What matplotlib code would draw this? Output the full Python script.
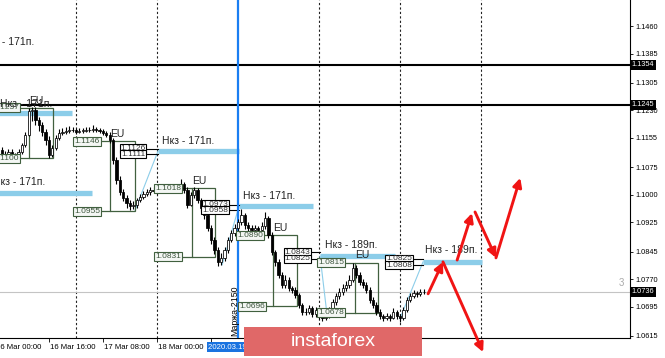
import numpy as np
import matplotlib
matplotlib.use('Agg')
import matplotlib.pyplot as plt
from matplotlib.patches import Rectangle
import matplotlib.transforms as mtransforms

plt.rcParams['font.family'] = ['Liberation Sans', 'DejaVu Sans']

# EURUSD H1, ось x - часы от 16 Mar 00:00
open0 = 1.1115
closes = [1.1120, 1.1123, 1.1109, 1.1101, 1.1117, 1.1109, 1.1101, 1.1117, 1.1136, 1.1164,
          1.1227, 1.1232, 1.1205, 1.1191, 1.1172, 1.1150, 1.1109, 1.1128, 1.1156, 1.1169,
          1.1172, 1.1175, 1.1177, 1.1177, 1.1172, 1.1175, 1.1175, 1.1177, 1.1177, 1.1180,
          1.1177, 1.1175, 1.1169, 1.1164, 1.1150, 1.1095, 1.1041, 1.1008, 1.0992, 1.0978,
          1.0970, 1.0973, 1.0986, 1.0995, 1.1003, 1.1008, 1.1014, 1.1011, 1.1011, 1.1016,
          1.1011, 1.1014, 1.1019, 1.1022, 1.1019, 1.1030, 1.1014, 1.0973, 1.1000, 1.1014,
          1.0986, 1.0964, 1.0945, 1.0910, 1.0877, 1.0850, 1.0817, 1.0828, 1.0850, 1.0877,
          1.0896, 1.0910, 1.0926, 1.0945, 1.0918, 1.0910, 1.0904, 1.0910, 1.0904, 1.0915,
          1.0937, 1.0891, 1.0844, 1.0817, 1.0782, 1.0754, 1.0768, 1.0746, 1.0741, 1.0727,
          1.0700, 1.0681, 1.0681, 1.0691, 1.0675, 1.0686, 1.0670, 1.0664, 1.0672, 1.0686,
          1.0708, 1.0724, 1.0735, 1.0746, 1.0754, 1.0768, 1.0801, 1.0782, 1.0762, 1.0754,
          1.0741, 1.0713, 1.0700, 1.0681, 1.0670, 1.0664, 1.0670, 1.0664, 1.0681, 1.0670,
          1.0664, 1.0686, 1.0713, 1.0724, 1.0732, 1.0730, 1.0735, 1.0736]
highs = [1.1135, 1.1140, 1.1130, 1.1118, 1.1125, 1.1124, 1.1115, 1.1124, 1.1142, 1.1172,
         1.1236, 1.1240, 1.1238, 1.1212, 1.1198, 1.1180, 1.1160, 1.1135, 1.1162, 1.1178,
         1.1182, 1.1186, 1.1188, 1.1185, 1.1183, 1.1181, 1.1182, 1.1186, 1.1184, 1.1190,
         1.1186, 1.1183, 1.1180, 1.1174, 1.1170, 1.1155, 1.1102, 1.1050, 1.1015, 1.1000,
         1.0986, 1.0982, 1.0992, 1.1002, 1.1010, 1.1016, 1.1022, 1.1020, 1.1018, 1.1025,
         1.1022, 1.1021, 1.1026, 1.1030, 1.1028, 1.1042, 1.1035, 1.1020, 1.1008, 1.1022,
         1.1018, 1.0992, 1.0970, 1.0952, 1.0918, 1.0885, 1.0858, 1.0840, 1.0858, 1.0885,
         1.0905, 1.0920, 1.0935, 1.0962, 1.0950, 1.0925, 1.0918, 1.0918, 1.0916, 1.0925,
         1.0952, 1.0942, 1.0898, 1.0850, 1.0824, 1.0790, 1.0780, 1.0775, 1.0752, 1.0748,
         1.0732, 1.0706, 1.0692, 1.0700, 1.0698, 1.0695, 1.0692, 1.0677, 1.0682, 1.0694,
         1.0716, 1.0732, 1.0745, 1.0758, 1.0765, 1.0780, 1.0815, 1.0808, 1.0790, 1.0770,
         1.0762, 1.0748, 1.0720, 1.0708, 1.0688, 1.0676, 1.0678, 1.0676, 1.0690, 1.0686,
         1.0676, 1.0694, 1.0720, 1.0732, 1.0740, 1.0738, 1.0742, 1.0744]
lows = [1.1100, 1.1108, 1.1095, 1.1092, 1.1096, 1.1100, 1.1094, 1.1098, 1.1112, 1.1130,
        1.1160, 1.1200, 1.1190, 1.1175, 1.1160, 1.1135, 1.1100, 1.1102, 1.1122, 1.1150,
        1.1162, 1.1165, 1.1168, 1.1170, 1.1166, 1.1167, 1.1168, 1.1170, 1.1171, 1.1172,
        1.1171, 1.1168, 1.1162, 1.1157, 1.1142, 1.1085, 1.1030, 1.0998, 1.0982, 1.0965,
        1.0958, 1.0962, 1.0965, 1.0980, 1.0988, 1.0996, 1.1000, 1.1004, 1.1003, 1.1005,
        1.1004, 1.1005, 1.1008, 1.1012, 1.1010, 1.1012, 1.1005, 1.0965, 1.0968, 1.0992,
        1.0978, 1.0955, 1.0935, 1.0900, 1.0865, 1.0838, 1.0805, 1.0808, 1.0820, 1.0842,
        1.0870, 1.0888, 1.0902, 1.0918, 1.0908, 1.0900, 1.0895, 1.0896, 1.0895, 1.0898,
        1.0908, 1.0882, 1.0835, 1.0806, 1.0772, 1.0745, 1.0746, 1.0738, 1.0733, 1.0718,
        1.0690, 1.0672, 1.0673, 1.0674, 1.0666, 1.0668, 1.0662, 1.0655, 1.0658, 1.0665,
        1.0680, 1.0700, 1.0716, 1.0728, 1.0738, 1.0745, 1.0762, 1.0774, 1.0754, 1.0745,
        1.0733, 1.0705, 1.0690, 1.0672, 1.0660, 1.0656, 1.0658, 1.0655, 1.0660, 1.0662,
        1.0652, 1.0658, 1.0680, 1.0708, 1.0718, 1.0722, 1.0725, 1.0730]

ytick_vals = [1.1460, 1.1385, 1.1305, 1.1230, 1.1155, 1.1075, 1.1000, 1.0925, 1.0845, 1.0770, 1.0695, 1.0615]
xtick_hours = [0, 16, 32, 48]
xtick_labels = ['16 Mar 00:00', '16 Mar 16:00', '17 Mar 08:00', '18 Mar 00:00']
level_lines = [1.1354, 1.1245]
last_price = 1.0736
day_lines = [24, 48, 96, 120, 144]
now_hour = 72

# зоны Нкз
nkz_level = [1.1223, 1.1119, 1.1005, 1.0969, 1.0833, 1.0817]
nkz_from = [0, 48.3, 0, 72.3, 96.3, 126.8]
nkz_to = [22.8, 72.3, 28.7, 94.2, 118.5, 144.3]
nkz_text = ['Нкз - 171п.', 'Нкз - 171п.', 'Нкз - 171п.', 'Нкз - 171п.', 'Нкз - 189п.', 'Нкз - 189п.', 'Нкз - 171п.']
nkz_tx = [1.5, 49.5, -0.5, 73.5, 97.8, 127.4, -3.9]
nkz_ty = [1.1247, 1.1147, 1.1035, 1.0997, 1.0863, 1.0849, 1.1416]

# прямоугольники EU
eu_x0 = [10.1, 34.1, 58.4, 82.4, 106.7]
eu_x1 = [17.2, 41.5, 65.2, 89.5, 113.5]
eu_top = [1.1237, 1.1146, 1.1018, 1.0890, 1.0815]
eu_bot = [1.1100, 1.0955, 1.0831, 1.0696, 1.0678]
eu_box_x = [3.3, 27.3, 51.3, 75.6, 99.6]   # подписи верх
eu_box_x2 = [3.3, 27.3, 51.3, 76.1, 99.6]  # подписи низ

# пары уровней в чёрных рамках
pair_vals = [(1.1126, 1.1111), (1.0973, 1.0958), (1.0843, 1.0825), (1.0825, 1.0808)]
pair_x = [40.9, 65.2, 89.5, 119.7]
pair_end = [48.3, 72.3, 96.3, 126.8]

# тонкие голубые линии
thin_from = [(41.5, 1.0958), (67.3, 1.0809), (98.4, 1.0670), (120.0, 1.0663)]
thin_to = [(48.3, 1.1119), (72.3, 1.0969), (96.3, 1.0833), (126.8, 1.0817)]

# прогноз (красные стрелки)
arrows = [((128.3, 1.0730), (132.7, 1.0817)),
          ((132.7, 1.0817), (144.6, 1.0571)),
          ((136.9, 1.0822), (141.3, 1.0950)),
          ((142.2, 1.0953), (148.4, 1.0828)),
          ((148.4, 1.0828), (155.6, 1.1046))]

green = '#41603f'
boxtxt = '#3d553d'
skyblue = '#8ccde9'

fig = plt.figure(figsize=(6.65, 3.58), dpi=100)
ax = fig.add_axes([0, 20/358, 630/665, 338/358])
ax.set_xlim(1.5, 188.1)
ax.set_ylim(1.06095, 1.15309)

for s in ['left', 'top']:
    ax.spines[s].set_visible(False)
ax.spines['right'].set_linewidth(0.8)
ax.spines['bottom'].set_linewidth(0.8)

ax.yaxis.tick_right()
ax.set_yticks(ytick_vals)
ax.set_yticklabels(['%.4f' % v for v in ytick_vals], fontsize=5.3)
ax.tick_params(axis='y', length=2, width=0.6, pad=2)
ax.set_xticks([16, 32, 48, 64])
ax.set_xticklabels([])
ax.tick_params(axis='x', length=3, width=0.6)

xt = mtransforms.blended_transform_factory(ax.transData, ax.transAxes)
yt = mtransforms.blended_transform_factory(ax.transAxes, ax.transData)
for h, lab in zip(xtick_hours, xtick_labels):
    ax.text(h + 0.3, -0.027, lab, transform=xt, fontsize=5.6, ha='left', va='center', clip_on=False)
ax.text(63.1, -0.027, '2020.03.19 00:00', transform=xt, fontsize=5.6, ha='left', va='center',
        color='white', clip_on=False,
        bbox=dict(boxstyle='square,pad=0.15', fc='#1a73e0', ec='none'))

# вертикальные линии
for d in day_lines:
    ax.axvline(d, color='#222222', lw=0.8, ls=(0, (2, 2)), zorder=1)
ax.axvline(now_hour, color='#1a7ef2', lw=1.6, zorder=4)

# горизонтальные уровни
for lv in level_lines:
    ax.axhline(lv, color='black', lw=1.5, zorder=2)
    ax.text(1.003, lv, '%.4f' % lv, transform=yt, fontsize=5.3, color='white', ha='left', va='center',
            clip_on=False, bbox=dict(boxstyle='square,pad=0.2', fc='black', ec='none'))
ax.axhline(last_price, color='#c4c4c4', lw=0.8, zorder=1)
ax.text(1.003, last_price, '%.4f' % last_price, transform=yt, fontsize=5.3, color='white', ha='left',
        va='center', clip_on=False, bbox=dict(boxstyle='square,pad=0.2', fc='black', ec='none'))
ax.text(185.5, 1.0759, '3', fontsize=7, color='#aaaaaa', ha='center', va='center')

# зоны Нкз
for lv, a, b in zip(nkz_level, nkz_from, nkz_to):
    ax.plot([a, b], [lv, lv], color=skyblue, lw=3.8, solid_capstyle='butt', zorder=3)
for t, x, y in zip(nkz_text, nkz_tx, nkz_ty):
    ax.text(x, y, t, fontsize=7.5, color='#222222', ha='left', va='center', zorder=8)

for a, b in zip(thin_from, thin_to):
    ax.plot([a[0], b[0]], [a[1], b[1]], color=skyblue, lw=0.8, zorder=3)

# EU прямоугольники
for x0, x1, t, b, bx, bx2 in zip(eu_x0, eu_x1, eu_top, eu_bot, eu_box_x, eu_box_x2):
    ax.add_patch(Rectangle((x0, b), x1 - x0, t - b, fill=False, ec=green, lw=0.9, zorder=3))
    ax.plot([bx, x0], [t, t], color=green, lw=0.9, zorder=3)
    ax.plot([bx2, x0], [b, b], color=green, lw=0.9, zorder=3)
    ax.text(x0, t + 0.0006, 'EU', fontsize=7.5, color='#222222', ha='left', va='bottom', zorder=8)
    for xx, v in [(bx, t), (bx2, b)]:
        ax.text(xx, v, '%.4f' % v, fontsize=6, color=boxtxt, ha='center', va='center', zorder=7,
                bbox=dict(boxstyle='square,pad=0.12', fc='#f4f7f4', ec=green, lw=0.8))

for (v1, v2), x, e in zip(pair_vals, pair_x, pair_end):
    for v in (v1, v2):
        ax.plot([x, e], [v, v], color='black', lw=0.8, zorder=3)
        ax.text(x, v, '%.4f' % v, fontsize=6, color='#333333', ha='center', va='center', zorder=7,
                bbox=dict(boxstyle='square,pad=0.08', fc='white', ec='black', lw=0.8))

# свечи
c = np.array(closes)
o = np.array([open0] + closes[:-1])
hours = np.arange(len(c))
ax.vlines(hours, lows, highs, color='black', lw=0.8, zorder=5)
bull = c >= o
body = np.maximum(np.abs(c - o), 0.00006)
ax.bar(hours, body, bottom=np.minimum(o, c), width=0.68,
       color=np.where(bull, 'white', 'black'), edgecolor='black', linewidth=0.55, zorder=6)

ax.text(71.0, 1.0683, 'Маржа-2150', fontsize=6.3, rotation=90, ha='center', va='center', zorder=8)

for (p0, p1) in arrows:
    ax.annotate('', xy=p1, xytext=p0, annotation_clip=False, zorder=9,
                arrowprops=dict(arrowstyle='-|>', color='#f01414', lw=2.1, mutation_scale=13,
                                shrinkA=0, shrinkB=0))

# водяной знак
fig.add_artist(Rectangle((244/665, 2/358), 178/665, 29/358, transform=fig.transFigure,
                         fc='#e06868', ec='none', zorder=10))
fig.text(333/665, 16/358, 'instaforex', fontsize=14, color='white', ha='center', va='center', zorder=11)

fig.savefig('out.png', dpi=100, facecolor='white')
